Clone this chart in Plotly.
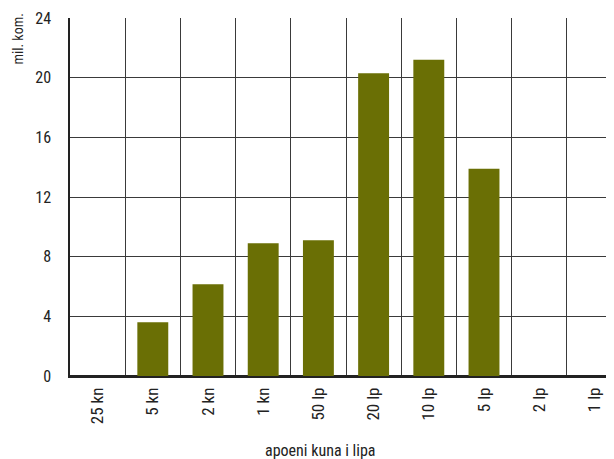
import plotly.graph_objects as go

categories = ["25 kn", "5 kn", "2 kn", "1 kn", "50 lp", "20 lp", "10 lp", "5 lp", "2 lp", "1 lp"]
values = [0, 3.6, 6.15, 8.9, 9.1, 20.3, 21.2, 13.9, 0, 0]
y_ticks = [0, 4, 8, 12, 16, 20, 24]

FONT = "Roboto Condensed, Liberation Sans Narrow, Arial Narrow, sans-serif"
GRID = "#3a3a3a"
TXT = "#222"

# page has an 8px body margin; plot area sits at page x 70..614, y 18..376
fig = go.Figure(go.Bar(x=categories, y=values, marker_color="#6a6f05",
                       marker_line_width=0, width=0.56))

fig.update_layout(
    width=606, height=451,
    margin=dict(l=62, r=0, t=10, b=83),
    plot_bgcolor="white", paper_bgcolor="white",
    showlegend=False,
    font=dict(family=FONT, size=14, color=TXT),
)
fig.update_xaxes(
    type="category", range=[-0.5, 9.355],
    tickson="boundaries", showgrid=True, gridcolor=GRID, gridwidth=1,
    tickangle=-90, ticks="", ticklabelstandoff=3,
    showline=True, linecolor=TXT, linewidth=1.5,
    tickfont=dict(family=FONT, size=17, color=TXT),
)
fig.update_yaxes(
    range=[0, 24], tickvals=y_ticks, showgrid=True, gridcolor=GRID, gridwidth=1,
    ticks="", ticklabelstandoff=14,
    showline=True, linecolor=TXT, linewidth=1.5,
    zeroline=True, zerolinecolor=TXT, zerolinewidth=1.5,
    tickfont=dict(family=FONT, size=16, color=TXT),
)
fig.add_annotation(text="mil. kom.", textangle=-90, xref="paper", yref="paper",
                   x=(17 - 70) / 544, y=(376 - 12) / 358, xanchor="center", yanchor="top",
                   showarrow=False, font=dict(family=FONT, size=14, color=TXT))
fig.add_annotation(text="apoeni kuna i lipa", xref="paper", yref="paper",
                   x=(320 - 70) / 544, y=(376 - 450) / 358, xanchor="center", yanchor="middle",
                   showarrow=False, font=dict(family=FONT, size=16, color=TXT))

fig.write_html("out.html")
